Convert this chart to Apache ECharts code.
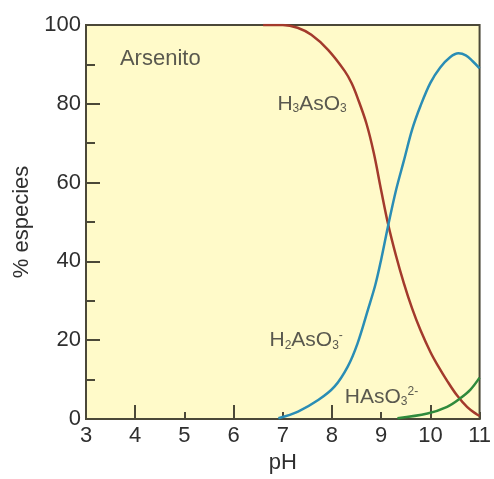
<!DOCTYPE html>
<html>
<head>
<meta charset="utf-8">
<script src="https://cdn.jsdelivr.net/npm/echarts@6/dist/echarts.min.js"></script>
<style>
  html, body { margin: 0; padding: 0; background: #ffffff; }
  #chart { width: 494px; height: 479px; }
</style>
</head>
<body>
<div id="chart"></div>
<script>
// Arsenite speciation vs pH (percent of each species)
const phH3AsO3 = [6.6, 7.0, 7.3, 7.58, 7.92, 8.26, 8.4, 8.52, 8.7, 8.85, 9.0, 9.14, 9.3, 9.46, 9.63, 9.8, 10.0, 10.14, 10.35, 10.54, 10.75, 10.94, 11];
const pctH3AsO3 = [100, 100, 99.3, 97.5, 93.7, 88.3, 85.2, 81.5, 75, 67.5, 58, 49.5, 41.5, 34.5, 28, 22.5, 17, 13.8, 9.5, 6, 3, 1.2, 0.8];

const phH2AsO3 = [6.91, 7.31, 7.72, 8.05, 8.32, 8.52, 8.73, 8.88, 9.0, 9.14, 9.3, 9.46, 9.63, 9.8, 10.0, 10.2, 10.4, 10.57, 10.72, 10.86, 11];
const pctH2AsO3 = [0.2, 1.9, 4.8, 8.2, 13.3, 19.2, 27.7, 34, 40.5, 49, 58, 65.5, 73.5, 79.5, 85.3, 89.2, 91.8, 92.8, 92.3, 90.8, 89];

const phHAsO3 = [9.33, 9.94, 10.34, 10.6, 10.81, 11];
const pctHAsO3 = [0.2, 1.4, 3.1, 5.2, 7.4, 10.5];

const xTicks = [3, 4, 5, 6, 7, 8, 9, 10, 11];
const xMajorTicks = [4, 6, 8, 10];
const yTicks = [0, 20, 40, 60, 80, 100];

// Text annotations placed in data coordinates: [pH, percent, text]
const notes = [
  [3.69, 91.5, '{t|Arsenito}'],
  [6.89, 80, '{a|H}{sb|3}{a|AsO}{sb|3}'],
  [6.73, 20, '{a|H}{sb|2}{a|AsO}{sb|3}{sp|-}'],
  [8.26, 5.6, '{a|HAsO}{sb|3}{sp|2-}']
];

const zip = (xs, ys) => xs.map((x, i) => [x, ys[i]]);

const textColor = '#2f2f2f';
const frameColor = '#4b4838';
const font = 'Liberation Sans, Arial, sans-serif';

const chart = echarts.init(document.getElementById('chart'));
chart.setOption({
  backgroundColor: '#ffffff',
  animation: false,
  grid: {
    left: 86, top: 25, right: 11, bottom: 60,
    show: true,
    backgroundColor: '#fffac9',
    borderColor: frameColor,
    borderWidth: 2
  },
  xAxis: [
    {
      type: 'value', min: 3, max: 11, interval: 1,
      name: 'pH', nameLocation: 'middle', nameGap: 33,
      nameTextStyle: { color: textColor, fontSize: 22, fontFamily: font },
      axisLine: { show: true, lineStyle: { color: frameColor, width: 2 } },
      axisTick: { show: true, inside: true, length: 7, customValues: xTicks, lineStyle: { color: frameColor, width: 2 } },
      axisLabel: { color: textColor, fontSize: 22, fontFamily: font, margin: 6, customValues: xTicks },
      splitLine: { show: false }
    },
    {
      type: 'value', min: 3, max: 11, position: 'bottom',
      axisLine: { show: false },
      axisTick: { show: true, inside: true, length: 14, customValues: xMajorTicks, lineStyle: { color: frameColor, width: 2 } },
      axisLabel: { show: false },
      splitLine: { show: false }
    }
  ],
  yAxis: {
    type: 'value', min: 0, max: 100, interval: 20,
    name: '% especies', nameLocation: 'middle', nameGap: 50, nameRotate: 90,
    nameTextStyle: { color: textColor, fontSize: 22, fontFamily: font },
    axisLine: { show: true, lineStyle: { color: frameColor, width: 2 } },
    axisTick: { show: true, inside: true, length: 14, lineStyle: { color: frameColor, width: 2 } },
    minorTick: { show: true, splitNumber: 2, length: 9, lineStyle: { color: frameColor, width: 2 } },
    axisLabel: { color: textColor, fontSize: 22, fontFamily: font, margin: 5, customValues: yTicks },
    splitLine: { show: false }
  },
  series: [
    {
      name: 'H3AsO3', type: 'line', xAxisIndex: 0,
      data: zip(phH3AsO3, pctH3AsO3),
      showSymbol: false, smooth: 0.35,
      lineStyle: { color: '#a33a2c', width: 2.5 }
    },
    {
      name: 'H2AsO3-', type: 'line', xAxisIndex: 0,
      data: zip(phH2AsO3, pctH2AsO3),
      showSymbol: false, smooth: 0.35,
      lineStyle: { color: '#2a8db5', width: 2.5 }
    },
    {
      name: 'HAsO3 2-', type: 'line', xAxisIndex: 0,
      data: zip(phHAsO3, pctHAsO3),
      showSymbol: false, smooth: 0.35,
      lineStyle: { color: '#2f8a3c', width: 2.5 }
    },
    {
      name: 'labels', type: 'scatter', xAxisIndex: 0,
      symbolSize: 0, silent: true,
      data: notes.map(n => ({ value: [n[0], n[1]], label: { formatter: n[2] } })),
      label: {
        show: true, position: 'right', distance: 0,
        color: textColor, fontFamily: font,
        rich: {
          t: { fontSize: 22, color: textColor, fontFamily: font },
          a: { fontSize: 21, color: textColor, fontFamily: font },
          sb: { fontSize: 12, color: textColor, fontFamily: font, padding: [10, 0, 0, 0] },
          sp: { fontSize: 12, color: textColor, fontFamily: font, padding: [0, 0, 10, 0] }
        }
      }
    }
  ]
});
</script>
</body>
</html>
